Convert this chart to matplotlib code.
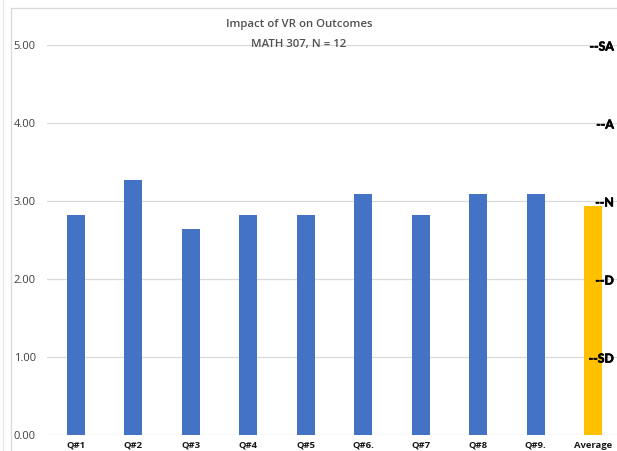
import matplotlib.pyplot as plt
import matplotlib.patheffects as pe
from matplotlib.lines import Line2D

questions = ["Q#1", "Q#2", "Q#3", "Q#4", "Q#5", "Q#6.", "Q#7", "Q#8", "Q#9.", "Average"]
scores = [2.82, 3.27, 2.64, 2.82, 2.82, 3.09, 2.82, 3.09, 3.09, 2.94]
scale_levels = [5, 4, 3, 2, 1]
scale_names = ["--SA", "--A", "--N", "--D", "--SD"]

plt.rcParams['font.family'] = ['Open Sans', 'DejaVu Sans']

fig = plt.figure(figsize=(6.17, 4.51), dpi=100)
ax = fig.add_axes([47 / 617, 1 - 435 / 451, 575 / 617, 390 / 451])

colors = ["#4472C4"] * (len(questions) - 1) + ["#FFC000"]
x = range(len(questions))
ax.bar(x, scores, width=0.32, color=colors, zorder=2)

ax.set_xlim(-0.5, len(questions) - 0.5)
ax.set_ylim(0, 5)
ax.set_yticks([0, 1, 2, 3, 4, 5])
ax.set_yticklabels(["%.2f" % v for v in [0, 1, 2, 3, 4, 5]])
ax.set_xticks(list(x))
ax.set_xticklabels(questions, fontweight="bold")
ax.tick_params(axis="y", length=0, pad=8, labelsize=8, labelcolor="#404040")
ax.tick_params(axis="x", length=0, pad=4, labelsize=6.8, labelcolor="#1a1a1a")
ax.grid(axis="y", color="#d9d9d9", linewidth=0.9, zorder=0)
for s in ax.spines.values():
    s.set_visible(False)

# Likert scale markers on the right
for lvl, name in zip(scale_levels, scale_names):
    fig.text(614 / 617, 1 - (435 - lvl * 78 + 2) / 451, name, ha="right", va="center",
             fontsize=8.8, fontweight="bold", color="black", family="Lato",
             path_effects=[pe.withStroke(linewidth=0.5, foreground="black")])

fig.text(299 / 617, 1 - 25 / 451, "Impact of VR on Outcomes", ha="center", va="center",
         fontsize=8.2, fontweight="semibold", color="#505050")
fig.text(299 / 617, 1 - 44 / 451, "MATH 307, N = 12", ha="center", va="center",
         fontsize=8.2, fontweight="semibold", color="#505050")

# chart frame edges
fig.add_artist(Line2D([11 / 617, 11 / 617], [0, 1 - 8 / 451], color="#d9d9d9", linewidth=0.9))
fig.add_artist(Line2D([11 / 617, 1], [1 - 8 / 451, 1 - 8 / 451], color="#d9d9d9", linewidth=0.9))
fig.add_artist(Line2D([3 / 617, 3 / 617], [0, 1], color="#e6e6e6", linewidth=0.9))

fig.savefig("out.png", dpi=100)
